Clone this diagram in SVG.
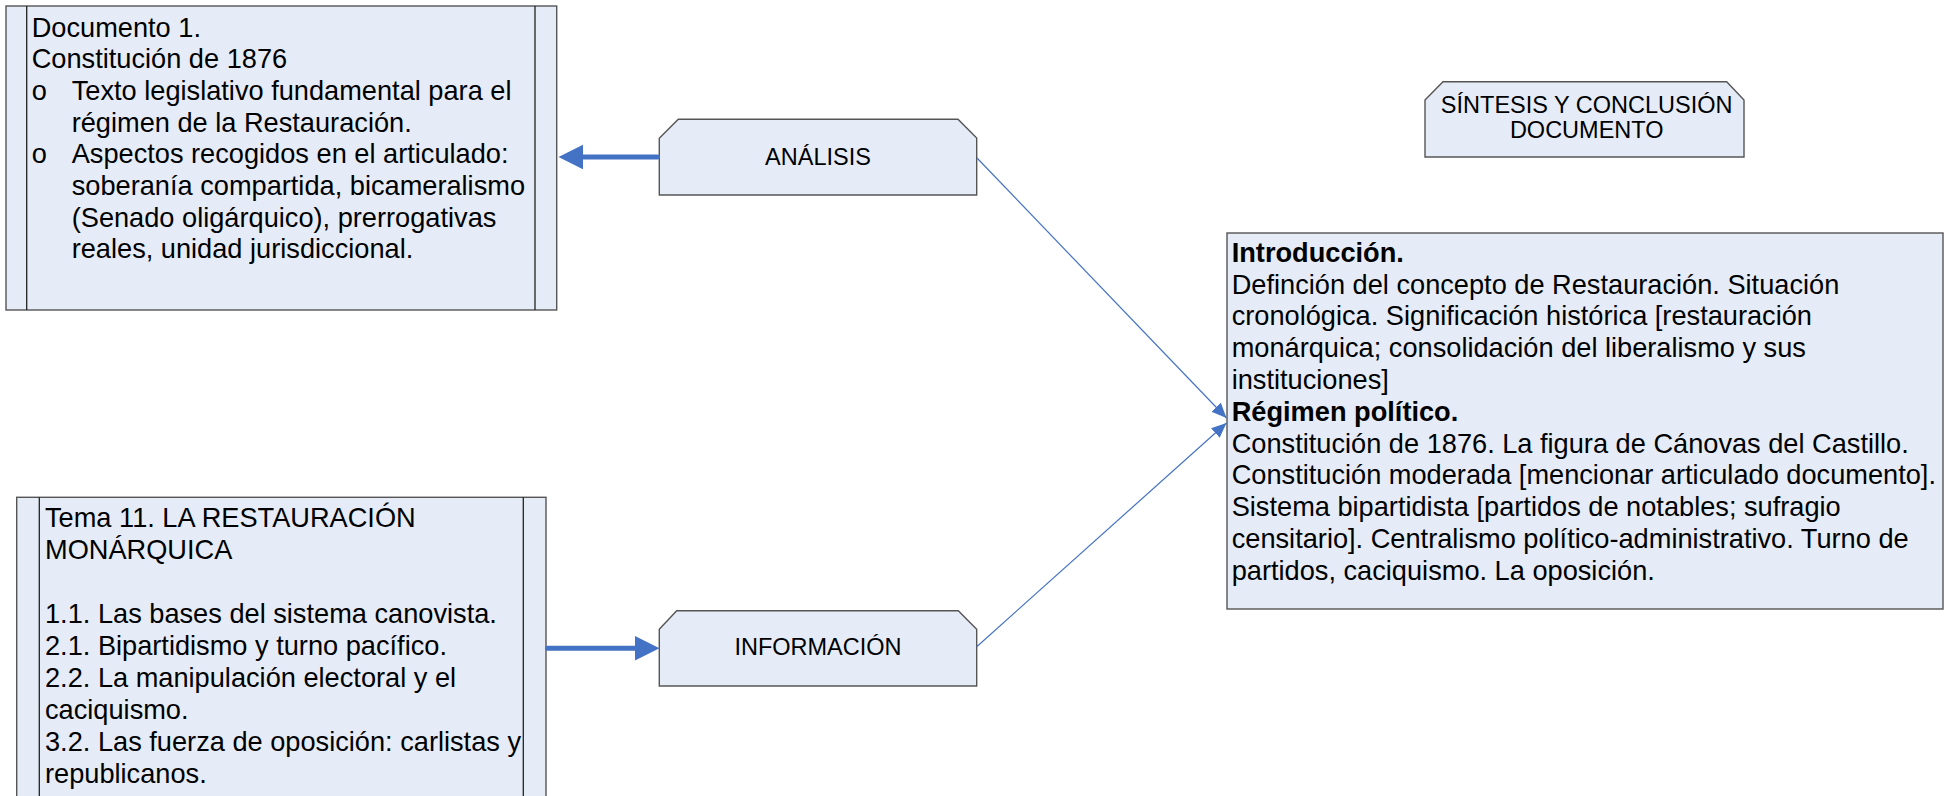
<svg xmlns="http://www.w3.org/2000/svg" width="1952" height="796" viewBox="0 0 1952 796">
  <style>
    .box { fill: #E6ECF7; stroke: #555555; stroke-width: 1.4; }
    .inner { stroke: #222222; stroke-width: 1.3; fill: none; }
    .t { font-family: "Liberation Sans", Arial, sans-serif; font-size: 27.2px; fill: #000000; }
    .b { font-weight: bold; }
    .lbl { font-family: "Liberation Sans", Arial, sans-serif; font-size: 23.5px; fill: #000000; text-anchor: middle; }
    .thick { stroke: #4472C4; stroke-width: 5; stroke-linecap: round; fill: none; }
    .thin { stroke: #4472C4; stroke-width: 1.2; fill: none; }
  </style>
  <defs>
    <marker id="headThick" markerUnits="userSpaceOnUse" markerWidth="26" markerHeight="26" refX="0" refY="12.3" orient="auto">
      <path d="M0,0 L24.5,12.3 L0,24.6 Z" fill="#4472C4"/>
    </marker>
    <marker id="headThin" markerUnits="userSpaceOnUse" markerWidth="16" markerHeight="14" refX="15" refY="6.5" orient="auto">
      <path d="M0,0 L15,6.5 L0,13 Z" fill="#4472C4"/>
    </marker>
  </defs>
  <rect width="1952" height="796" fill="#FFFFFF"/>

  <g id="documento">
    <rect class="box" x="6" y="6" width="550.7" height="304"/>
    <line class="inner" x1="26.7" y1="6" x2="26.7" y2="310"/>
    <line class="inner" x1="535" y1="6" x2="535" y2="310"/>
    <text class="t" x="31.7" y="36.7">Documento 1.</text>
    <text class="t" x="31.7" y="68.3">Constitución de 1876</text>
    <text class="t" x="31.7" y="100">o</text>
    <text class="t" x="71.7" y="100">Texto legislativo fundamental para el</text>
    <text class="t" x="71.7" y="131.7">régimen de la Restauración.</text>
    <text class="t" x="31.7" y="163.3">o</text>
    <text class="t" x="71.7" y="163.3">Aspectos recogidos en el articulado:</text>
    <text class="t" x="71.7" y="195">soberanía compartida, bicameralismo</text>
    <text class="t" x="71.7" y="226.7">(Senado oligárquico), prerrogativas</text>
    <text class="t" x="71.7" y="258.3">reales, unidad jurisdiccional.</text>
  </g>

  <g id="tema">
    <rect class="box" x="16.7" y="497.3" width="529.3" height="310"/>
    <line class="inner" x1="39.3" y1="497.3" x2="39.3" y2="800"/>
    <line class="inner" x1="523.3" y1="497.3" x2="523.3" y2="800"/>
    <text class="t" x="45" y="526.7">Tema 11. LA RESTAURACIÓN</text>
    <text class="t" x="45" y="558.7">MONÁRQUICA</text>
    <text class="t" x="45" y="622.7">1.1. Las bases del sistema canovista.</text>
    <text class="t" x="45" y="654.7">2.1. Bipartidismo y turno pacífico.</text>
    <text class="t" x="45" y="686.7">2.2. La manipulación electoral y el</text>
    <text class="t" x="45" y="718.7">caciquismo.</text>
    <text class="t" x="45" y="750.7">3.2. Las fuerza de oposición: carlistas y</text>
    <text class="t" x="45" y="782.7">republicanos.</text>
  </g>

  <g id="analisis">
    <path class="box" d="M659.3,138.3 L678.3,119.3 L958,119.3 L976.7,138 L976.7,195 L659.3,195 Z"/>
    <text class="lbl" x="818" y="165">ANÁLISIS</text>
  </g>

  <g id="informacion">
    <path class="box" d="M659.3,629.3 L676.7,610.7 L958.3,610.7 L976.7,629.3 L976.7,686 L659.3,686 Z"/>
    <text class="lbl" x="818" y="655">INFORMACIÓN</text>
  </g>

  <g id="sintesis">
    <path class="box" d="M1425,100 L1443,81.7 L1726.7,81.7 L1744,100 L1744,157 L1425,157 Z"/>
    <text class="lbl" x="1586.7" y="113">SÍNTESIS Y CONCLUSIÓN</text>
    <text class="lbl" x="1586.7" y="138.3">DOCUMENTO</text>
  </g>

  <g id="conclusion">
    <rect class="box" x="1227" y="233" width="716" height="376"/>
    <text class="t b" x="1231.7" y="261.7">Introducción.</text>
    <text class="t" x="1231.7" y="293.5">Definción del concepto de Restauración. Situación</text>
    <text class="t" x="1231.7" y="325.3">cronológica. Significación histórica [restauración</text>
    <text class="t" x="1231.7" y="357.1">monárquica; consolidación del liberalismo y sus</text>
    <text class="t" x="1231.7" y="388.9">instituciones]</text>
    <text class="t b" x="1231.7" y="420.7">Régimen político.</text>
    <text class="t" x="1231.7" y="452.5">Constitución de 1876. La figura de Cánovas del Castillo.</text>
    <text class="t" x="1231.7" y="484.3">Constitución moderada [mencionar articulado documento].</text>
    <text class="t" x="1231.7" y="516.1">Sistema bipartidista [partidos de notables; sufragio</text>
    <text class="t" x="1231.7" y="547.9">censitario]. Centralismo político-administrativo. Turno de</text>
    <text class="t" x="1231.7" y="579.7">partidos, caciquismo. La oposición.</text>
  </g>

  <g id="connectors">
    <line class="thick" x1="657.5" y1="157" x2="583" y2="157" marker-end="url(#headThick)"/>
    <line class="thick" x1="547.5" y1="648.3" x2="635" y2="648.3" marker-end="url(#headThick)"/>
    <line class="thin" x1="977" y1="158" x2="1226.5" y2="418" marker-end="url(#headThin)"/>
    <line class="thin" x1="976.7" y1="646.7" x2="1226.5" y2="423" marker-end="url(#headThin)"/>
  </g>
</svg>
